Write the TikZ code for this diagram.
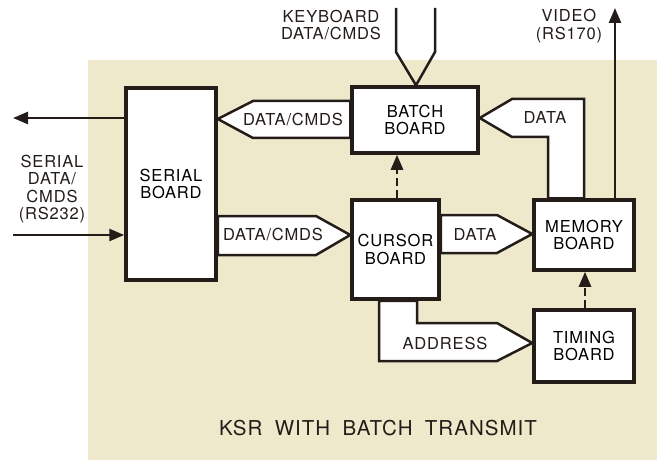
\documentclass[tikz,border=0pt]{standalone}
\usepackage{fontspec}
\setmainfont{TeX Gyre Heros}[LetterSpace=5]
\usetikzlibrary{arrows.meta}
\definecolor{paper}{RGB}{239,233,204}
\definecolor{ink}{RGB}{35,28,25}
\pgfdeclarelayer{back}
\pgfdeclarelayer{buses}
\pgfsetlayers{back,buses,main}
\tikzset{
  board/.style={draw=ink, line width=3.5pt, fill=white, align=center, inner sep=0pt},
  bus/.style={draw=ink, line width=2.5pt, fill=white, line join=miter},
  sig/.style={draw=ink, line width=2.5pt, -{Triangle[length=15pt,width=12pt]}},
  ctl/.style={sig, dash pattern=on 8pt off 4pt},
  lbl/.style={text=ink, align=center, inner sep=0pt},
}
\begin{document}
\begin{tikzpicture}[x=1pt, y=-1pt, font=\fontsize{16.5}{17.5}\selectfont]
    \useasboundingbox (0,0) rectangle (657,460);
    \begin{pgfonlayer}{back}
      \fill[paper] (88,60) rectangle (657,460);
    \end{pgfonlayer}

    \node[board, minimum width=90pt, minimum height=192pt] (serial) at (171,184) {SERIAL\\BOARD};
    \node[board, minimum width=126pt, minimum height=66pt] (batch) at (415,120) {BATCH\\BOARD};
    \node[board, minimum width=87pt, minimum height=99pt] (cursor) at (395.5,249.5) {CURSOR\\BOARD};
    \node[board, minimum width=100pt, minimum height=70pt] (memory) at (584,235) {MEMORY\\BOARD};
    \node[board, minimum width=100pt, minimum height=72pt] (timing) at (584,346) {TIMING\\BOARD};

    \begin{pgfonlayer}{buses}
      \draw[bus] (batch.west |- 0,101) -- (253,101) -- (serial.east |- 0,119)
        -- (253,138) -- (batch.west |- 0,138) -- cycle;
      \draw[bus] (serial.east |- 0,216) -- (316,216) -- (cursor.west |- 0,235)
        -- (316,255) -- (serial.east |- 0,255) -- cycle;
      \draw[bus] (cursor.east |- 0,215) -- (497,215) -- (memory.west |- 0,234)
        -- (497,253) -- (cursor.east |- 0,253) -- cycle;
      \draw[bus] (cursor.south -| 417,0) -- (417,323) -- (497,323) -- (timing.west |- 0,343)
        -- (497,361) -- (379,361) -- (cursor.south -| 379,0) -- cycle;
      \draw[bus] (memory.north -| 584,0) -- (584,99) -- (512,99) -- (batch.east |- 0,118)
        -- (512,137) -- (548,137) -- (memory.north -| 548,0) -- cycle;
    \end{pgfonlayer}
    \draw[draw=ink, line width=2.5pt, line join=miter] (396,8) -- (396,52) -- (batch.north -| 416,0) -- (435,52) -- (435,8);

    \coordinate (sout) at (13,118);
    \coordinate (sin) at (13,235);
    \coordinate (vout) at (615,8);
    \draw[sig] (serial.west |- sout) -- (sout);
    \draw[sig] (sin) -- (serial.west |- sin);
    \draw[sig] (memory.north -| vout) -- (vout);
    \draw[ctl] (cursor.north -| 397,0) -- (batch.south -| 397,0);
    \draw[ctl] (timing.north -| 585,0) -- (memory.south -| 585,0);

    \node[lbl] (l1) at (293,120) {DATA/CMDS};
    \node[lbl] (l2) at (273,235) {DATA/CMDS};
    \node[lbl] (l3) at (475,234) {DATA};
    \node[lbl] (l4) at (545,117) {DATA};
    \node[lbl] (l5) at (445,343) {ADDRESS};
    \node[lbl] (kbd) at (331,25) {KEYBOARD\\DATA/CMDS};
    \node[lbl] (video) at (569,26) {VIDEO\\(RS170)};
    \node[lbl] (rs) at (52,189) {SERIAL\\DATA/\\CMDS\\(RS232)};
    \node[lbl, font=\fontsize{20.5}{22}\selectfont] (title) at (378,428)
      {KSR\hspace{0.6em}WITH\hspace{0.6em}BATCH\hspace{0.6em}TRANSMIT};
\end{tikzpicture}
\end{document}
